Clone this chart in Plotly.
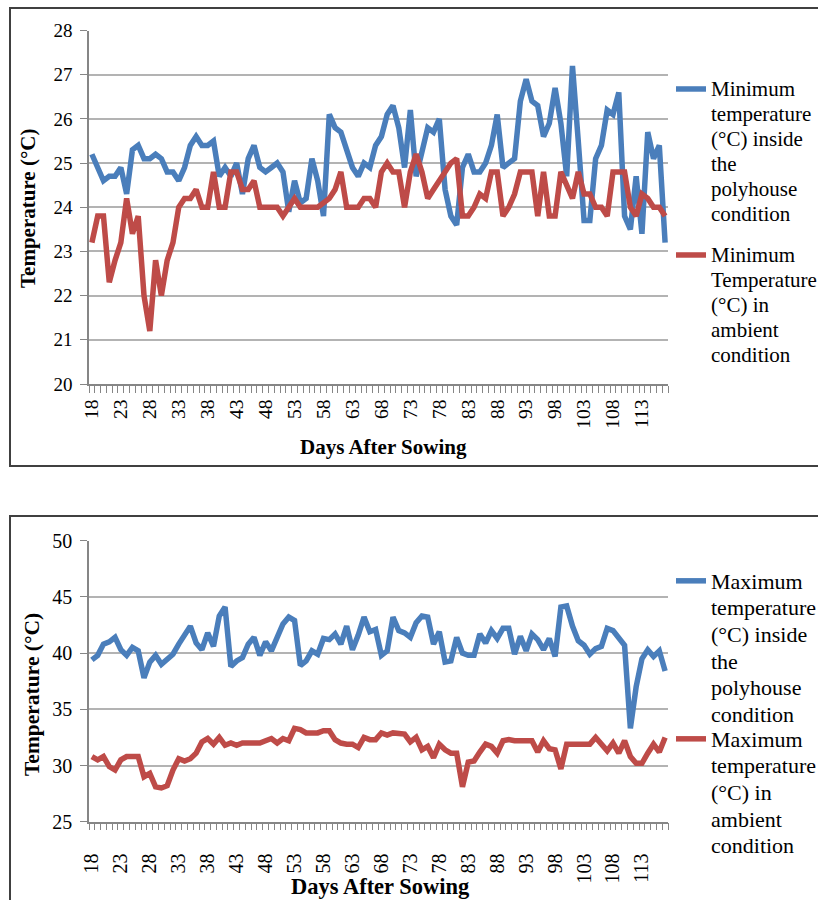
import plotly.graph_objects as go

days = list(range(18, 118))

min_poly = [25.2, 24.9, 24.6, 24.7, 24.7, 24.9, 24.3, 25.3, 25.4, 25.1,
            25.1, 25.2, 25.1, 24.8, 24.8, 24.6, 24.9, 25.4, 25.6, 25.4,
            25.4, 25.5, 24.7, 24.9, 24.7, 25.0, 24.3, 25.1, 25.4, 24.9,
            24.8, 24.9, 25.0, 24.8, 23.9, 24.6, 24.1, 24.2, 25.1, 24.6,
            23.8, 26.1, 25.8, 25.7, 25.3, 24.9, 24.7, 25.0, 24.9, 25.4,
            25.6, 26.1, 26.3, 25.8, 24.9, 26.2, 24.7, 25.2, 25.8, 25.7,
            26.0, 24.4, 23.8, 23.6, 24.9, 25.2, 24.8, 24.8, 25.0, 25.4,
            26.1, 24.9, 25.0, 25.1, 26.4, 26.9, 26.4, 26.3, 25.6, 25.9,
            26.7, 25.9, 24.7, 27.2, 25.5, 23.7, 23.7, 25.1, 25.4, 26.2,
            26.1, 26.6, 23.8, 23.5, 24.7, 23.4, 25.7, 25.1, 25.4, 23.2]

min_amb = [23.2, 23.8, 23.8, 22.3, 22.8, 23.2, 24.2, 23.4, 23.8, 22.0,
           21.2, 22.8, 22.0, 22.8, 23.2, 24.0, 24.2, 24.2, 24.4, 24.0,
           24.0, 24.8, 24.0, 24.0, 24.8, 24.8, 24.4, 24.4, 24.6, 24.0,
           24.0, 24.0, 24.0, 23.8, 24.0, 24.2, 24.0, 24.0, 24.0, 24.0,
           24.1, 24.2, 24.4, 24.8, 24.0, 24.0, 24.0, 24.2, 24.2, 24.0,
           24.8, 25.0, 24.8, 24.8, 24.0, 24.8, 25.2, 24.8, 24.2, 24.4,
           24.6, 24.8, 25.0, 25.1, 23.8, 23.8, 24.0, 24.3, 24.2, 24.8,
           24.8, 23.8, 24.0, 24.3, 24.8, 24.8, 24.8, 23.8, 24.8, 23.8,
           23.8, 24.8, 24.5, 24.2, 24.8, 24.3, 24.3, 24.0, 24.0, 23.8,
           24.8, 24.8, 24.8, 24.0, 23.8, 24.3, 24.2, 24.0, 24.0, 23.8]

max_poly = [39.4, 39.8, 40.8, 41.0, 41.4, 40.3, 39.8, 40.5, 40.2, 37.8,
            39.2, 39.8, 39.0, 39.4, 39.9, 40.8, 41.6, 42.4, 40.9, 40.3,
            41.8, 40.6, 43.3, 44.1, 38.8, 39.3, 39.6, 40.8, 41.4, 39.8,
            41.0, 40.2, 41.4, 42.6, 43.2, 42.9, 38.9, 39.3, 40.2, 39.9,
            41.3, 41.2, 41.7, 40.8, 42.4, 40.3, 41.6, 43.2, 41.9, 42.1,
            39.8, 40.2, 43.2, 42.0, 41.8, 41.4, 42.7, 43.3, 43.2, 40.8,
            41.9, 39.2, 39.3, 41.4, 40.0, 39.8, 39.8, 41.7, 40.9, 42.0,
            41.3, 42.2, 42.2, 39.9, 41.5, 40.2, 41.7, 41.2, 40.3, 41.3,
            39.7, 44.1, 44.2, 42.4, 41.1, 40.7, 39.9, 40.4, 40.6, 42.2,
            42.0, 41.3, 40.7, 33.3, 37.0, 39.5, 40.3, 39.7, 40.2, 38.4]

max_amb = [30.8, 30.5, 30.8, 29.9, 29.6, 30.5, 30.8, 30.8, 30.8, 29.0,
           29.3, 28.1, 28.0, 28.2, 29.6, 30.6, 30.4, 30.6, 31.1, 32.1,
           32.4, 31.9, 32.5, 31.8, 32.0, 31.8, 32.0, 32.0, 32.0, 32.0,
           32.2, 32.4, 32.0, 32.4, 32.2, 33.3, 33.2, 32.9, 32.9, 32.9,
           33.1, 33.1, 32.3, 32.0, 31.9, 31.9, 31.6, 32.5, 32.3, 32.3,
           32.9, 32.7, 32.9, 32.9, 32.8, 32.1, 32.5, 31.4, 31.7, 30.7,
           31.9, 31.4, 31.1, 31.1, 28.1, 30.3, 30.4, 31.2, 31.9, 31.7,
           31.1, 32.2, 32.3, 32.2, 32.2, 32.2, 32.2, 31.2, 32.2, 31.5,
           31.4, 29.7, 31.9, 31.9, 31.9, 31.9, 31.9, 32.5, 31.8, 31.3,
           32.0, 31.1, 32.2, 30.8, 30.2, 30.2, 31.1, 31.9, 31.2, 32.5]

name_lines = [["Minimum", "temperature", "(°C) inside", "the", "polyhouse", "condition"],
              ["Minimum", "Temperature", "(°C) in", "ambient", "condition"],
              ["Maximum", "temperature", "(°C) inside", "the", "polyhouse", "condition"],
              ["Maximum", "temperature", "(°C) in", "ambient", "condition"]]

BLUE = "#4A7EBB"
RED = "#BE4B48"
SERIF = "Liberation Serif"
W, H = 818, 900

def px(x):
    return x / W

def py(y):
    return 1 - y / H

def styled(lines, size):
    return "<br>".join(f"<span style='font-size:{size}px'>{s}</span>" for s in lines)

LW = 5.5
fig = go.Figure()
fig.add_trace(go.Scatter(x=days, y=min_poly, mode="lines", name=styled(name_lines[0], 21), showlegend=True,
                         line=dict(color=BLUE, width=LW), xaxis="x", yaxis="y", legend="legend"))
fig.add_trace(go.Scatter(x=days, y=min_amb, mode="lines", name=styled(name_lines[1], 21), showlegend=True,
                         line=dict(color=RED, width=LW), xaxis="x", yaxis="y", legend="legend2"))
fig.add_trace(go.Scatter(x=days, y=max_poly, mode="lines", name=styled(name_lines[2], 22), showlegend=True,
                         line=dict(color=BLUE, width=LW), xaxis="x2", yaxis="y2", legend="legend3"))
fig.add_trace(go.Scatter(x=days, y=max_amb, mode="lines", name=styled(name_lines[3], 22), showlegend=True,
                         line=dict(color=RED, width=LW), xaxis="x2", yaxis="y2", legend="legend4"))

axis_col = "#868686"
grid_col = "#B3B3B3"

def xaxis_cfg(anchor, standoff, fsize):
    return dict(domain=[px(89), px(668)], anchor=anchor, range=[17.5, 117.5],
                tickmode="linear", tick0=18, dtick=5, ticks="", tickangle=-90,
                ticklabelstandoff=standoff,
                tickfont=dict(family=SERIF, size=fsize, color="#000"),
                showline=True, linecolor=axis_col, linewidth=1.5, showgrid=False, zeroline=False,
                minor=dict(ticks="outside", ticklen=7, tickcolor=axis_col, tickwidth=1,
                           tickmode="linear", tick0=17.5, dtick=1, showgrid=False))

def yaxis_cfg(anchor, dom, rng, dt, fsize):
    return dict(domain=dom, anchor=anchor, range=rng, dtick=dt, tickmode="linear", tick0=rng[0],
                ticks="outside", ticklen=7, tickcolor=axis_col, ticklabelstandoff=4,
                tickfont=dict(family=SERIF, size=fsize, color="#000"),
                showline=True, linecolor=axis_col, linewidth=1.5,
                showgrid=True, gridcolor=grid_col, gridwidth=1.5, zeroline=False)

def leg(x, y, size):
    return dict(x=px(x), y=py(y), xanchor="left", yanchor="top", valign="top",
                font=dict(family=SERIF, size=size, color="#000"), bgcolor="rgba(0,0,0,0)",
                itemwidth=30, borderwidth=0)

fig.update_layout(
    width=W, height=H, margin=dict(l=0, r=0, t=0, b=0, autoexpand=False),
    showlegend=True,
    paper_bgcolor="white", plot_bgcolor="white",
    xaxis=xaxis_cfg("y", 6, 19.5),
    yaxis=yaxis_cfg("x", [py(384), py(30.5)], [20, 28], 1, 19),
    xaxis2=xaxis_cfg("y2", 22, 20),
    yaxis2=yaxis_cfg("x2", [py(821.7), py(540.7)], [25, 50], 5, 20),
    legend=leg(671, 70, 19.2),
    legend2=leg(671, 236, 19.2),
    legend3=leg(671, 561, 20.5),
    legend4=leg(671, 719, 20.5),
    shapes=[
        dict(type="rect", xref="paper", yref="paper", x0=px(10), x1=px(830), y0=py(466), y1=py(8),
             line=dict(color="#404040", width=2)),
        dict(type="rect", xref="paper", yref="paper", x0=px(10), x1=px(830), y0=py(910), y1=py(516),
             line=dict(color="#404040", width=2)),
    ],
    annotations=[
        dict(text="<b>Temperature (°C)</b>", xref="paper", yref="paper", x=px(28), y=py(209),
             xanchor="center", yanchor="middle",
             textangle=-90, showarrow=False, font=dict(family=SERIF, size=21, color="#000")),
        dict(text="<b>Days After Sowing</b>", xref="paper", yref="paper", x=px(383), y=py(447),
             xanchor="center", yanchor="middle",
             showarrow=False, font=dict(family=SERIF, size=21, color="#000")),
        dict(text="<b>Temperature (°C)</b>", xref="paper", yref="paper", x=px(32), y=py(695),
             xanchor="center", yanchor="middle",
             textangle=-90, showarrow=False, font=dict(family=SERIF, size=21.5, color="#000")),
        dict(text="<b>Days After Sowing</b>", xref="paper", yref="paper", x=px(380), y=py(886),
             xanchor="center", yanchor="middle",
             showarrow=False, font=dict(family=SERIF, size=22.5, color="#000")),
    ],
)

fig.write_html("out.html")
